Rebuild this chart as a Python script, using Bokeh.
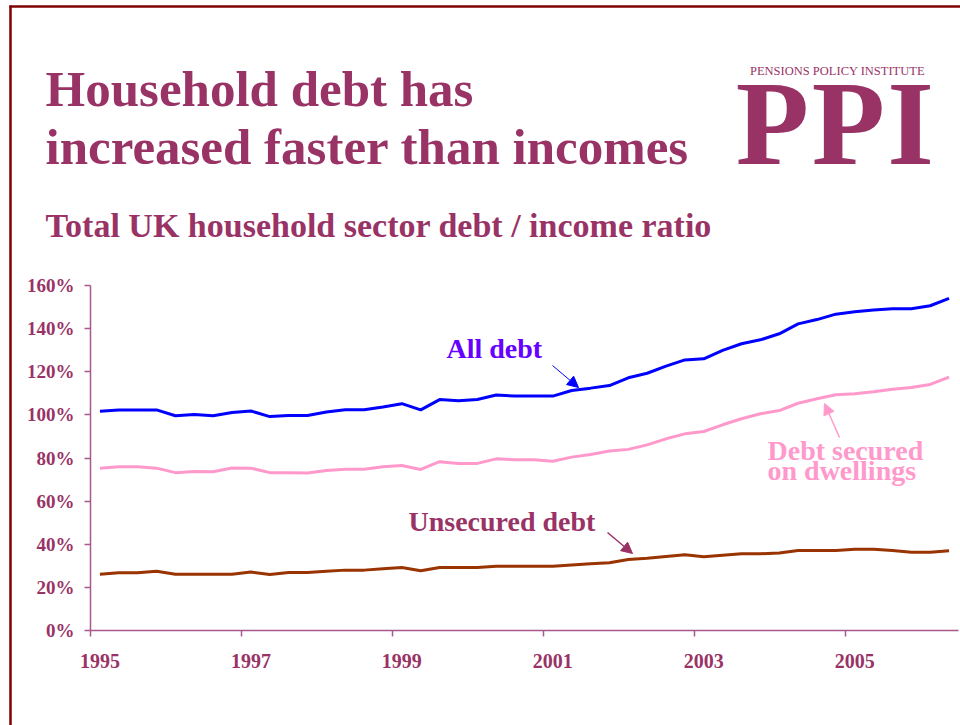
from bokeh.plotting import figure
from bokeh.models import (LinearAxis, FixedTicker, PrintfTickFormatter, Label,
                          Arrow, NormalHead, Range1d)
from bokeh.embed import file_html
from bokeh.resources import INLINE

# ---------------- data ----------------
start_year = 1995
n_quarters = 46  # 1995 Q1 .. 2006 Q2
quarter_x = [start_year + 0.125 + 0.25 * i for i in range(n_quarters)]

all_debt = [101.7, 102.3, 102.3, 102.3, 99.6, 100.2, 99.6, 101.1, 101.8, 99.2,
            99.7, 99.7, 101.3, 102.4, 102.4, 103.7, 105.2, 102.3, 107.1, 106.5,
            107.1, 109.2, 108.7, 108.7, 108.7, 111.3, 112.4, 113.6, 117.2, 119.3,
            122.6, 125.5, 126.0, 129.9, 133.0, 134.8, 137.6, 142.2, 144.2, 146.7,
            147.8, 148.6, 149.2, 149.2, 150.6, 154.0]
secured = [75.3, 75.9, 75.9, 75.3, 73.2, 73.7, 73.6, 75.4, 75.3, 73.2,
           73.2, 73.0, 74.2, 74.8, 74.8, 75.9, 76.5, 74.7, 78.3, 77.5,
           77.5, 79.6, 79.2, 79.2, 78.5, 80.4, 81.6, 83.2, 84.0, 86.1,
           88.9, 91.2, 92.3, 95.4, 98.2, 100.5, 102.0, 105.4, 107.5, 109.3,
           109.8, 110.7, 111.9, 112.7, 114.1, 117.5]
unsecured = [26.1, 26.8, 26.8, 27.5, 26.1, 26.1, 26.1, 26.1, 27.1, 26.0,
             26.9, 26.9, 27.5, 28.0, 28.0, 28.6, 29.2, 27.7, 29.2, 29.2,
             29.2, 29.8, 29.8, 29.8, 29.8, 30.4, 30.9, 31.4, 32.9, 33.5,
             34.3, 35.1, 34.2, 34.9, 35.6, 35.6, 35.9, 37.1, 37.1, 37.1,
             37.7, 37.7, 37.1, 36.3, 36.3, 37.0]

y_ticks = [0, 20, 40, 60, 80, 100, 120, 140, 160]
x_tick_years = [1995, 1997, 1999, 2001, 2003, 2005]
x_tick_labels = ["1995", "1997", "1999", "2001", "2003", "2005"]

title_lines = ["Household debt has", "increased faster than incomes"]
subtitle = "Total UK household sector debt / income ratio"

# ---------------- layout ----------------
W, H = 960, 725
FL, FR, FT, FB = 90, 958, 285, 630      # pixel box of the chart area
X0, X1 = 1995.0, 2006.5
Y0, Y1 = 0.0, 160.0

def fx(px):
    return X0 + (px - FL) * (X1 - X0) / (FR - FL)

def fy(py):
    return Y0 + (FB - py) * (Y1 - Y0) / (FB - FT)

SERIF = "Liberation Serif"
PLUM = "#993366"
AXC = "#a8588a"

# the frame covers the whole canvas so that titles and logo can be drawn in it
p = figure(width=W, height=H, output_backend="svg", toolbar_location=None,
           x_range=Range1d(fx(0), fx(W)), y_range=Range1d(fy(H), fy(0)),
           x_axis_location=None, y_axis_location=None, min_border=0)
p.outline_line_color = None
p.grid.visible = False
p.background_fill_color = "white"
p.border_fill_color = "white"

# y axis
yax = LinearAxis(ticker=FixedTicker(ticks=y_ticks),
                 formatter=PrintfTickFormatter(format="%d%%"),
                 fixed_location=X0, bounds=(Y0, Y1))
yax.axis_line_color = AXC
yax.axis_line_width = 1.5
yax.major_tick_line_color = AXC
yax.major_tick_line_width = 1.5
yax.major_tick_out = 6
yax.major_tick_in = 0
yax.minor_tick_line_color = None
yax.major_label_text_font = SERIF
yax.major_label_text_font_style = "bold"
yax.major_label_text_font_size = "19px"
yax.major_label_text_color = PLUM
yax.major_label_standoff = 10
p.add_layout(yax, "left")

# x axis (tick marks at year boundaries)
xax = LinearAxis(ticker=FixedTicker(ticks=x_tick_years),
                 major_label_overrides={y: "" for y in x_tick_years},
                 fixed_location=Y0, bounds=(X0, X1))
xax.axis_line_color = AXC
xax.axis_line_width = 1.5
xax.major_tick_line_color = AXC
xax.major_tick_line_width = 1.5
xax.major_tick_out = 6
xax.major_tick_in = 0
xax.minor_tick_line_color = None
xax.major_label_text_font_size = "1px"
xax.major_label_standoff = 0
p.add_layout(xax, "below")

# x axis labels (at the first quarter of each labelled year)
label_pos = [y + 0.125 for y in x_tick_years]
xlab = LinearAxis(ticker=FixedTicker(ticks=label_pos),
                  major_label_overrides={pos: t for pos, t in zip(label_pos, x_tick_labels)},
                  fixed_location=Y0, bounds=(X0, X1))
xlab.axis_line_color = None
xlab.major_tick_line_color = None
xlab.minor_tick_line_color = None
xlab.major_tick_out = 0
xlab.major_tick_in = 0
xlab.major_label_text_font = SERIF
xlab.major_label_text_font_style = "bold"
xlab.major_label_text_font_size = "20px"
xlab.major_label_text_color = PLUM
xlab.major_label_standoff = 23
p.add_layout(xlab, "below")

# series
p.line(quarter_x, all_debt, line_color="#0000ff", line_width=3)
p.line(quarter_x, secured, line_color="#ff99cc", line_width=3)
p.line(quarter_x, unsecured, line_color="#993300", line_width=3)

# page frame lines
p.segment(x0=[fx(9), fx(10)], y0=[fy(6), fy(5)], x1=[fx(962), fx(10)], y1=[fy(6), fy(727)],
          line_color="#800000", line_width=2.5)

def label(px, py, text, size, color, bold=True, align="left"):
    # py is the wanted baseline; Bokeh's alphabetic placement sits ~0.37em lower
    p.add_layout(Label(x=fx(px), y=fy(py - 0.37 * size), text=text, text_font=SERIF,
                       text_font_style="bold" if bold else "normal",
                       text_font_size=f"{size}px", text_color=color, text_align=align,
                       text_baseline="alphabetic"))

# titles
label(45, 107, title_lines[0], 51, PLUM)
label(45, 165, title_lines[1], 51, PLUM)
label(45, 238, subtitle, 34, PLUM)

# logo
label(837, 75, "PENSIONS POLICY INSTITUTE", 12.5, PLUM, bold=False, align="center")
for ch, cx in [("P", 772), ("P", 848), ("I", 910)]:
    label(cx, 167, ch, 120, PLUM, align="center")

# annotations
label(446, 358, "All debt", 28, "#6600ff")
p.add_layout(Arrow(end=NormalHead(size=11, fill_color="#0000ff", line_color="#0000ff"),
                   x_start=fx(552), y_start=fy(365), x_end=fx(578), y_end=fy(387),
                   line_color="#0000ff", line_width=1))

label(767, 460, "Debt secured", 28, "#ff99cc")
label(767, 480, "on dwellings", 28, "#ff99cc")
p.add_layout(Arrow(end=NormalHead(size=11, fill_color="#ff99cc", line_color="#ff99cc"),
                   x_start=fx(839), y_start=fy(437), x_end=fx(824), y_end=fy(403),
                   line_color="#ff99cc", line_width=1.5))

label(408, 531, "Unsecured debt", 28, PLUM)
p.add_layout(Arrow(end=NormalHead(size=11, fill_color=PLUM, line_color=PLUM),
                   x_start=fx(607), y_start=fy(532), x_end=fx(632), y_end=fy(553),
                   line_color=PLUM, line_width=1.5))

open("out.html", "w").write(file_html(p, INLINE))
